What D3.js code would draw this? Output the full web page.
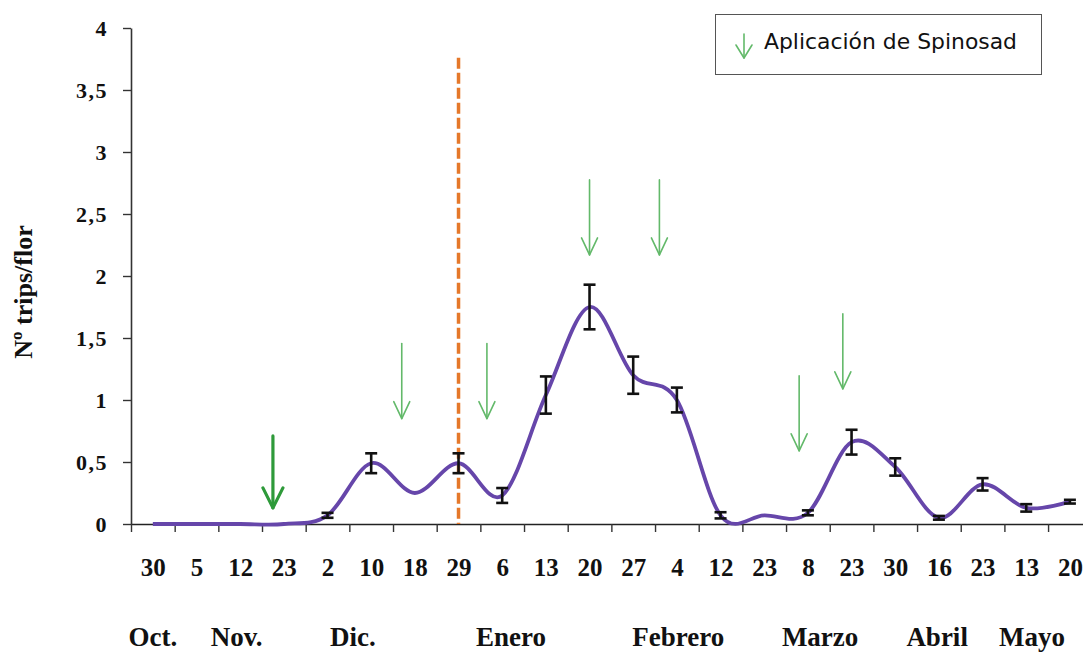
<!DOCTYPE html>
<html>
<head>
<meta charset="utf-8">
<script src="https://cdn.jsdelivr.net/npm/d3@7"></script>
<style>
  html, body { margin: 0; padding: 0; background: #ffffff; }
  svg { display: block; }
</style>
</head>
<body>
<svg id="chart" width="1083" height="656"></svg>
<script>
// Sampling dates (day of month) along the season
const dayLabels = ["30","5","12","23","2","10","18","29","6","13","20","27","4","12","23","8","23","30","16","23","13","20"];
// Mean number of thrips per flower on each date
const thripsMean = [0, 0, 0, 0, 0.07, 0.49, 0.25, 0.49, 0.23, 1.04, 1.75, 1.2, 1.0, 0.07, 0.07, 0.09, 0.66, 0.46, 0.05, 0.32, 0.13, 0.18];
// Standard error of each mean (0 = no bar drawn)
const thripsErr = [0, 0, 0, 0, 0.02, 0.08, 0, 0.08, 0.06, 0.15, 0.18, 0.15, 0.1, 0.025, 0, 0.02, 0.1, 0.07, 0.015, 0.05, 0.03, 0.015];
// Month names and the sampling index each one sits under
const monthLabels = ["Oct.", "Nov.", "Dic.", "Enero", "Febrero", "Marzo", "Abril", "Mayo"];
const monthAt = [0, 1.92, 4.58, 8.2, 12.03, 15.28, 17.96, 20.13];
// Spinosad applications: sampling index (fractional = between dates) and arrow tip value
const sprayAt = [2.75, 5.7, 7.65, 10, 11.6, 14.8, 15.8];
const sprayTip = [0.13, 0.85, 0.85, 2.17, 2.17, 0.59, 1.09];
const sprayMain = [true, false, false, false, false, false, false];
// Date marked with the dashed vertical line (29 Dic.)
const markerAt = 7;
const markerTop = 3.76;
// Y tick values
const yTicks = [0, 0.5, 1, 1.5, 2, 2.5, 3, 3.5, 4];

const svg = d3.select("#chart");
const serif = "'Liberation Serif', 'Times New Roman', serif";

const plotLeft = 131, plotBottom = 524, plotTop = 28;
const step = 43.67;
const x = d3.scaleLinear().domain([-0.5, dayLabels.length - 0.5])
  .range([plotLeft, plotLeft + step * dayLabels.length]);
const y = d3.scaleLinear().domain([0, 4]).range([plotBottom, plotTop]);

// Y axis
const yAxis = svg.append("g")
  .attr("transform", `translate(${plotLeft},0)`)
  .call(d3.axisLeft(y).tickValues(yTicks).tickSize(8).tickSizeOuter(0).tickPadding(15)
    .tickFormat(d => String(d).replace(".", ",")));
yAxis.select(".domain").attr("stroke", "#333").attr("stroke-width", 1.6);
yAxis.selectAll(".tick line").attr("stroke", "#333").attr("stroke-width", 1.4);
yAxis.selectAll(".tick text")
  .attr("font-family", serif).attr("font-weight", "bold").attr("font-size", 22)
  .attr("letter-spacing", "1.5px").attr("fill", "#111");

// X axis: tick marks sit between dates
const xTickMarks = d3.range(-0.5, dayLabels.length - 0.5, 1);
const xAxis = svg.append("g")
  .attr("transform", `translate(0,${plotBottom})`)
  .call(d3.axisBottom(x).tickValues(xTickMarks).tickSize(8).tickSizeOuter(0).tickFormat(""));
xAxis.select(".domain").attr("stroke", "#222").attr("stroke-width", 1.6);
xAxis.selectAll(".tick line").attr("stroke", "#333").attr("stroke-width", 1.4);

// X labels (dates) at each sampling point
const xLabels = svg.append("g")
  .attr("transform", `translate(0,${plotBottom})`)
  .call(d3.axisBottom(x).tickValues(d3.range(dayLabels.length)).tickSize(0)
    .tickFormat(i => dayLabels[i]));
xLabels.select(".domain").remove();
xLabels.selectAll(".tick text")
  .attr("y", 52).attr("dy", 0)
  .attr("font-family", serif).attr("font-weight", "bold").attr("font-size", 25).attr("fill", "#111");

// Month names
svg.append("g").selectAll("text").data(monthLabels).join("text")
  .attr("x", (d, i) => x(monthAt[i]))
  .attr("y", 646)
  .attr("text-anchor", "middle")
  .attr("font-family", serif).attr("font-weight", "bold").attr("font-size", 27)
  .attr("fill", "#111")
  .text(d => d);

// Y axis title
svg.append("text")
  .attr("transform", "translate(32,292) rotate(-90)")
  .attr("text-anchor", "middle")
  .attr("font-family", serif).attr("font-weight", "bold").attr("font-size", 26)
  .attr("fill", "#111")
  .text("Nº trips/flor");

// Dashed vertical marker
svg.append("line")
  .attr("x1", x(markerAt)).attr("x2", x(markerAt))
  .attr("y1", y(markerTop)).attr("y2", y(0))
  .attr("stroke", "#e5782a").attr("stroke-width", 3.5)
  .attr("stroke-dasharray", "11,4");

// Smoothed mean line
const line = d3.line()
  .x((d, i) => x(i))
  .y(d => y(d))
  .curve(d3.curveCardinal.tension(0));
svg.append("path")
  .datum(thripsMean)
  .attr("d", line)
  .attr("fill", "none")
  .attr("stroke", "#6646aa")
  .attr("stroke-width", 3.8)
  .attr("stroke-linejoin", "round");

// Error bars
const bars = svg.append("g").selectAll("g")
  .data(thripsMean.map((m, i) => ({ i, m, e: thripsErr[i] })).filter(d => d.e > 0))
  .join("g")
  .attr("stroke", "#111").attr("stroke-width", 2.6);
bars.append("line")
  .attr("x1", d => x(d.i)).attr("x2", d => x(d.i))
  .attr("y1", d => y(d.m - d.e)).attr("y2", d => y(d.m + d.e));
bars.append("line")
  .attr("x1", d => x(d.i) - 6).attr("x2", d => x(d.i) + 6)
  .attr("y1", d => y(d.m + d.e)).attr("y2", d => y(d.m + d.e));
bars.append("line")
  .attr("x1", d => x(d.i) - 6).attr("x2", d => x(d.i) + 6)
  .attr("y1", d => y(d.m - d.e)).attr("y2", d => y(d.m - d.e));

// Spinosad application arrows
function arrow(g, cx, tipY, len, hw, hh) {
  g.append("line").attr("x1", cx).attr("x2", cx).attr("y1", tipY - len).attr("y2", tipY);
  g.append("path").attr("d", `M${cx - hw},${tipY - hh}L${cx},${tipY}L${cx + hw},${tipY - hh}`)
    .attr("fill", "none");
}
sprayAt.forEach((at, i) => {
  const main = sprayMain[i];
  const g = svg.append("g")
    .attr("stroke", main ? "#2e9a3a" : "#63b96a")
    .attr("stroke-width", main ? 3.2 : 1.6)
    .attr("stroke-linecap", "round").attr("stroke-linejoin", "round");
  arrow(g, x(at), y(sprayTip[i]), main ? 72 : 75, main ? 10 : 8, main ? 20 : 17);
});

// Legend
const legend = svg.append("g");
legend.append("rect")
  .attr("x", 715.5).attr("y", 14.5).attr("width", 326).attr("height", 60)
  .attr("fill", "#fff").attr("stroke", "#555").attr("stroke-width", 1);
const lg = legend.append("g")
  .attr("stroke", "#63b96a").attr("stroke-width", 1.6)
  .attr("stroke-linecap", "round").attr("stroke-linejoin", "round");
arrow(lg, 744, 58, 24, 8, 13);
legend.append("text")
  .attr("x", 764).attr("y", 49)
  .attr("font-family", "'DejaVu Sans', Verdana, sans-serif").attr("font-size", 21)
  .attr("textLength", 253).attr("lengthAdjust", "spacingAndGlyphs")
  .attr("fill", "#111")
  .text("Aplicación de Spinosad");
</script>
</body>
</html>
